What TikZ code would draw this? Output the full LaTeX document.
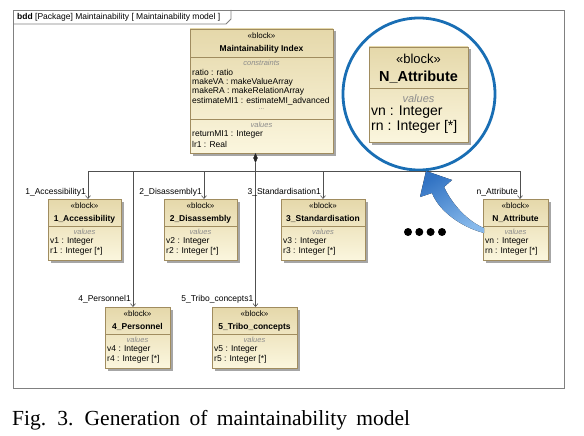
\documentclass[tikz,border=0pt]{standalone}
\usepackage{fontspec}
\setmainfont{Liberation Sans}
\newfontfamily\capfont{Liberation Serif}
\usetikzlibrary{shadows,shapes.geometric,arrows.meta}
\definecolor{bdr}{RGB}{160,140,95}
\definecolor{btop}{RGB}{229,216,170}
\definecolor{bbot}{RGB}{251,246,222}
\definecolor{frm}{RGB}{128,128,128}
\definecolor{lnk}{RGB}{80,80,80}
\definecolor{cir}{RGB}{25,110,180}
\definecolor{bluA}{RGB}{50,115,195}
\definecolor{bluB}{RGB}{135,185,235}
\definecolor{gtxt}{RGB}{140,140,140}
\newcommand\fsz[1]{\fontsize{#1}{#1}\selectfont}
\tikzset{
  blk/.style={draw=bdr, line width=0.6pt, top color=btop, bottom color=bbot, inner sep=0pt, outer sep=0pt,
    drop shadow={shadow xshift=2.5pt, shadow yshift=-2.5pt, opacity=0.35, fill=black}},
  st/.style={inner sep=0pt, font=\fsz{8}},
  ttl/.style={inner sep=0pt, font=\bfseries\fsz{8.5}},
  vals/.style={inner sep=0pt, font=\itshape\fsz{7.5}, text=gtxt},
  attr/.style={inner sep=0pt, anchor=west, font=\fsz{8.5}},
  sepl/.style={draw=bdr, line width=0.6pt},
  conn/.style={draw=lnk, line width=0.6pt},
  arr/.style={conn, -{Straight Barb[length=3pt,width=5pt]}},
  lbl/.style={inner sep=0pt, anchor=east, font=\fsz{8.5}},
  dot/.style={circle, fill=black, minimum size=8pt, inner sep=0pt},
}
% name, left, top, width, title, index
\newcommand\sblock[6]{%
  \node[blk, minimum width=#4pt, minimum height=61pt] (#1) at ({#2+#4/2},{#3+30.5}) {};
  \node[st] (#1-st) at ({#2+#4/2},{#3+7}) {«block»};
  \node[ttl] (#1-tt) at ({#2+#4/2},{#3+20}) {#5};
  \draw[sepl] ({#2},{#3+27}) -- ({#2+#4},{#3+27});
  \node[vals] (#1-vl) at ({#2+#4/2},{#3+33}) {values};
  \node[attr] (#1-v) at ({#2+2},{#3+42}) {v#6 : Integer};
  \node[attr] (#1-r) at ({#2+2},{#3+52}) {r#6 : Integer [*]};
}
\begin{document}
\begin{tikzpicture}[x=1pt,y=-1pt]
\useasboundingbox (0,0) rectangle (584,436);
\fill[white] (0,0) rectangle (584,436);
% frame
\draw[frm, line width=0.8pt] (13,10) rectangle (564,388);
\draw[frm, line width=0.8pt] (13,24) -- (226,24) -- (231,19) -- (231,10);
\node[anchor=west, inner sep=0pt, font=\fsz{8.5}] (tab) at (17,17) {\textbf{bdd} [Package] Maintainability [ Maintainability model ]};

% Maintainability Index block
\node[blk, minimum width=143pt, minimum height=124pt] (MI) at (261.5,91) {};
\node[st] (MI-st) at (261.5,36) {«block»};
\node[ttl] (MI-tt) at (261.5,49) {Maintainability Index};
\draw[sepl] (190,57) -- (333,57);
\node[vals] (MI-cn) at (261.5,63) {constraints};
\node[attr] (MI-a1) at (192,72) {ratio : ratio};
\node[attr] (MI-a2) at (192,82) {makeVA : makeValueArray};
\node[attr] (MI-a3) at (192,91) {makeRA : makeRelationArray};
\node[attr] (MI-a4) at (192,101) {estimateMI1 : estimateMI\_advanced};
\node[vals, font=\fsz{7}] (MI-dd) at (261.5,109) {...};
\draw[sepl] (190,119) -- (333,119);
\node[vals] (MI-vl) at (261.5,125) {values};
\node[attr] (MI-b1) at (192,134) {returnMI1 : Integer};
\node[attr] (MI-b2) at (192,144) {lr1 : Real};

% big N_Attribute block in circle
\node[circle, draw=cir, line width=2.8pt, minimum size=152pt, inner sep=0pt] (ring) at (419,94) {};
\node[blk, minimum width=99pt, minimum height=95pt] (BN) at (418.5,94.5) {};
\node[st, font=\fsz{13}] (BN-st) at (418.5,59) {«block»};
\node[ttl, font=\bfseries\fsz{14.5}] (BN-tt) at (418.5,77) {N\_Attribute};
\draw[sepl] (369,88) -- (468,88);
\node[vals, font=\itshape\fsz{11}] (BN-vl) at (418.5,99) {values};
\node[attr, font=\fsz{14}] (BN-v) at (371,112) {vn : Integer};
\node[attr, font=\fsz{14}] (BN-r) at (371,127) {rn : Integer [*]};

% small blocks
\sblock{acc}{48}{199}{73}{1\_Accessibility}{1}
\sblock{dis}{164}{199}{73}{2\_Disassembly}{2}
\sblock{std}{281}{199}{84}{3\_Standardisation}{3}
\sblock{nat}{483}{199}{65}{N\_Attribute}{n}
\sblock{per}{105}{307}{65}{4\_Personnel}{4}
\sblock{tri}{212}{307}{85}{5\_Tribo\_concepts}{5}

% connectors
\node[diamond, fill=black!85, draw=black!85, inner sep=0pt, minimum width=4pt, minimum height=9pt, aspect=0.5] (dia) at (255.5,158) {};
\coordinate (cA) at (88,171);
\coordinate (cP) at (133,171);
\coordinate (cD) at (204,171);
\coordinate (cS) at (323,171);
\coordinate (cN) at (520,171);
\draw[conn] (cA) -- (cN);
\draw[conn] (MI.south -| dia.north) -- (dia.north);
\draw[arr] (dia.south) -- (dia.south |- tri.north);
\draw[arr] (cA) -- (cA |- acc.north);
\draw[arr] (cP) -- (cP |- per.north);
\draw[arr] (cD) -- (cD |- dis.north);
\draw[arr] (cS) -- (cS |- std.north);
\draw[arr] (cN) -- (cN |- nat.north);

\node[lbl] (lA) at (86,192) {1\_Accessibility1};
\node[lbl] (lD) at (202,192) {2\_Disassembly1};
\node[lbl] (lS) at (321,192) {3\_Standardisation1};
\node[lbl] (lN) at (518,192) {n\_Attribute};
\node[lbl] (lP) at (131,299) {4\_Personnel1};
\node[lbl] (lT) at (253.5,299) {5\_Tribo\_concepts1};

% dots
\node[dot] (d1) at (408,232) {};
\node[dot] (d2) at (419.3,232) {};
\node[dot] (d3) at (430.6,232) {};
\node[dot] (d4) at (442,232) {};

% blue curved arrow
\fill[left color=bluA, right color=bluB, shading angle=30]
  (484,233) .. controls (461,227) and (439,211) .. (432,193)
  -- (420,197) -- (426,171) -- (452,180) -- (444,187)
  .. controls (453,206) and (469,222) .. (484,228) -- cycle;

% caption
\node[anchor=base west, inner sep=0pt, font=\capfont\fsz{21.5}] (cap) at (12,425) {Fig.\hspace{4pt} 3.\hspace{4pt} Generation\hspace{4pt} of\hspace{4pt} maintainability\hspace{4pt} model};
\end{tikzpicture}
\end{document}
